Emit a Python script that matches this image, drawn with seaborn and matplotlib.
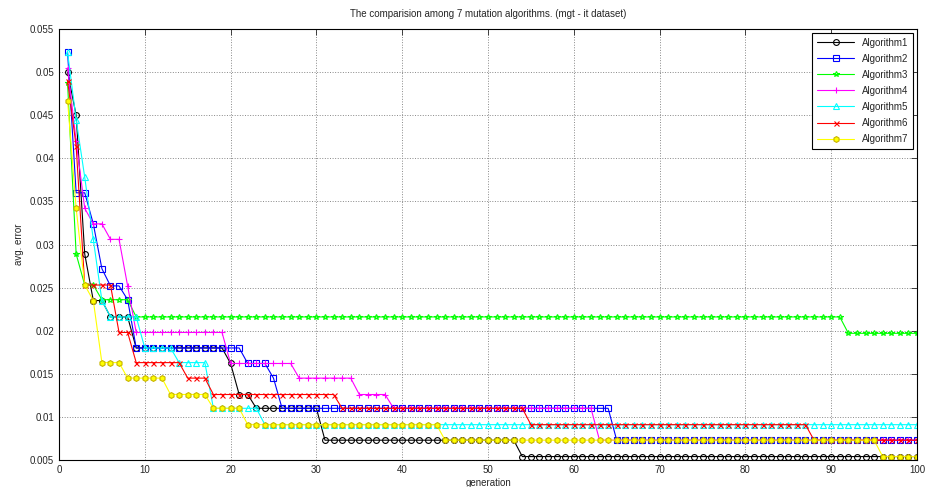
import numpy as np
import pandas as pd
import matplotlib
matplotlib.use("Agg")
import matplotlib.pyplot as plt
from matplotlib.ticker import FuncFormatter, MultipleLocator
import seaborn as sns

sns.set_style("whitegrid")
plt.rcParams['font.family'] = ['Liberation Sans', 'DejaVu Sans']

generations = np.arange(1, 101)


def steps(start, levels):
    """Valores iniciales y luego tramos (generacion_inicio, valor) hasta 100."""
    vals = list(start)
    for i, (g0, v) in enumerate(levels):
        g1 = levels[i + 1][0] if i + 1 < len(levels) else 101
        vals += [v] * (g1 - g0)
    return vals


# valores
alg1 = steps([0.0500, 0.0450, 0.0289],
             [(4, 0.0235), (6, 0.0216), (9, 0.0180), (20, 0.0162), (21, 0.0126),
              (23, 0.0110), (31, 0.0073), (54, 0.0054)])
alg2 = steps([0.0523, 0.0360, 0.0360, 0.0324, 0.0272, 0.0252, 0.0252, 0.0236],
             [(9, 0.0180), (22, 0.0162), (25, 0.0145), (26, 0.0110), (65, 0.0073)])
alg3 = steps([0.0487, 0.0289],
             [(3, 0.0253), (5, 0.0236), (9, 0.0216), (92, 0.0197)])
alg4 = steps([0.0505, 0.0420, 0.0342],
             [(4, 0.0324), (6, 0.0306), (8, 0.0252), (9, 0.0198), (20, 0.0162),
              (28, 0.0145), (35, 0.0126), (39, 0.0110), (63, 0.0073)])
alg5 = steps([0.0523, 0.0445, 0.0378, 0.0306, 0.0235],
             [(6, 0.0216), (10, 0.0180), (14, 0.0163), (18, 0.0110), (24, 0.0091)])
alg6 = steps([0.0490, 0.0414],
             [(3, 0.0253), (7, 0.0198), (9, 0.0163), (15, 0.0145), (18, 0.0126),
              (33, 0.0110), (55, 0.0091), (88, 0.0073)])
alg7 = steps([0.0467, 0.0342, 0.0253, 0.0235],
             [(5, 0.0163), (8, 0.0145), (13, 0.0126), (18, 0.0110), (22, 0.0091),
              (45, 0.0073), (96, 0.0054)])

names = ['Algorithm1', 'Algorithm2', 'Algorithm3', 'Algorithm4',
         'Algorithm5', 'Algorithm6', 'Algorithm7']
series = [alg1, alg2, alg3, alg4, alg5, alg6, alg7]
colors = ['#000000', '#0000ff', '#00ff00', '#ff00ff', '#00ffff', '#ff0000', '#ffff00']
markers = ['o', 's', '*', '+', '^', 'x', 'h']
msizes = [4.2, 4.2, 3.8, 5.0, 4.2, 3.6, 4.2]

data = pd.DataFrame({
    'generation': np.tile(generations, len(names)),
    'error': np.concatenate(series),
    'algorithm': np.repeat(names, len(generations)),
})

fig = plt.figure(figsize=(9.26, 4.87), dpi=100)
ax = fig.add_axes([0.0637, 0.0554, 0.9266, 0.885])

for name, c, m, ms in zip(names, colors, markers, msizes):
    sub = data[data['algorithm'] == name]
    face = 'none'
    edge = c
    if name == 'Algorithm7':
        face = c
        edge = '#c8b400'
    sns.lineplot(data=sub, x='generation', y='error', ax=ax, label=name,
                 color=c, marker=m, markersize=ms, markerfacecolor=face,
                 markeredgecolor=edge, markeredgewidth=0.8, linewidth=0.8)

ax.set_xlim(0, 100)
ax.set_ylim(0.005, 0.055)
ax.xaxis.set_major_locator(MultipleLocator(10))
ax.yaxis.set_major_locator(MultipleLocator(0.005))
ax.yaxis.set_major_formatter(FuncFormatter(lambda v, p: '%g' % round(v, 4)))
ax.tick_params(direction='in', top=True, right=True, labelsize=7, length=4, width=0.6)
ax.grid(True, linestyle=':', color='#888888', linewidth=0.7)
for s in ax.spines.values():
    s.set_color('black')
    s.set_linewidth(0.8)

ax.set_title('The comparision among 7 mutation algorithms. (mgt - it dataset)', fontsize=7, pad=9)
ax.set_xlabel('generation', fontsize=7, labelpad=2)
ax.set_ylabel('avg. error', fontsize=7, labelpad=4)

leg = ax.legend(loc='upper right', fontsize=7, fancybox=False, framealpha=1,
                edgecolor='black', borderpad=0.5, labelspacing=0.62, handlelength=3.8,
                borderaxespad=0.4)
leg.get_frame().set_linewidth(0.8)

plt.savefig('out.png', dpi=100)
plt.close()
